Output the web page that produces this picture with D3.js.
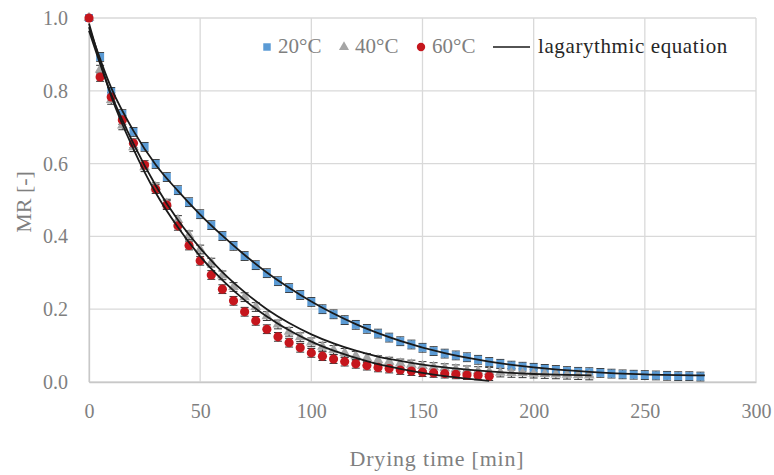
<!DOCTYPE html>
<html>
<head>
<meta charset="utf-8">
<script src="https://cdn.jsdelivr.net/npm/d3@7"></script>
<style>
body { margin: 0; background: #fff; }
svg text { font-family: "Liberation Serif", "DejaVu Serif", serif; }
</style>
</head>
<body>
<div id="chart"></div>
<script>
// measured drying data, MR every 5 min
var t20 = d3.range(0, 276, 5);
var mr20 = [1.0, 0.893, 0.797, 0.736, 0.687, 0.646, 0.599, 0.563, 0.527, 0.494,
  0.461, 0.431, 0.401, 0.374, 0.346, 0.321, 0.299, 0.277, 0.258, 0.239,
  0.220, 0.200, 0.186, 0.170, 0.157, 0.146, 0.133, 0.122, 0.112, 0.103,
  0.094, 0.085, 0.078, 0.073, 0.068, 0.061, 0.055, 0.050, 0.045, 0.042,
  0.039, 0.036, 0.033, 0.030, 0.028, 0.027, 0.025, 0.023, 0.021, 0.020,
  0.019, 0.018, 0.017, 0.016, 0.016, 0.015];

var t40 = d3.range(0, 226, 5);
var mr40 = [1.0, 0.858, 0.775, 0.705, 0.645, 0.59, 0.535, 0.49, 0.445, 0.403,
  0.364, 0.328, 0.293, 0.261, 0.233, 0.206, 0.181, 0.158, 0.138, 0.123,
  0.109, 0.097, 0.088, 0.080, 0.072, 0.066, 0.060, 0.056, 0.051, 0.048,
  0.044, 0.041, 0.038, 0.035, 0.032, 0.030, 0.028, 0.026, 0.025, 0.024,
  0.023, 0.022, 0.021, 0.020, 0.019, 0.018];

var t60 = d3.range(0, 181, 5);
var mr60 = [1.0, 0.838, 0.783, 0.72, 0.656, 0.596, 0.53, 0.486, 0.429, 0.375,
  0.333, 0.294, 0.255, 0.223, 0.193, 0.168, 0.145, 0.124, 0.108, 0.094,
  0.080, 0.071, 0.063, 0.056, 0.050, 0.045, 0.040, 0.037, 0.033, 0.030,
  0.027, 0.025, 0.023, 0.021, 0.019, 0.018, 0.016];

var errMR = 0.012;

// logarithmic model curves
var fitT20 = [0, 10, 20, 30, 40, 50, 60, 70, 80, 90, 100, 120, 140, 160, 180, 200, 225, 250, 277];
var fit20 = [0.975, 0.808, 0.69, 0.597, 0.525, 0.46, 0.402, 0.349, 0.301, 0.259, 0.221, 0.159, 0.113, 0.079, 0.056, 0.040, 0.028, 0.021, 0.018];
var fitT40 = [0, 10, 20, 30, 40, 50, 60, 70, 80, 90, 100, 110, 120, 130, 140, 150, 160, 170, 180, 190, 200, 210, 226];
var fit40 = [0.965, 0.79, 0.655, 0.54, 0.445, 0.368, 0.302, 0.247, 0.2, 0.162, 0.131, 0.106, 0.086, 0.07, 0.058, 0.048, 0.04, 0.034, 0.029, 0.025, 0.022, 0.02, 0.018];
var fitT60 = [0, 10, 20, 30, 40, 50, 60, 70, 80, 90, 100, 110, 120, 130, 140, 150, 160, 170, 180];
var fit60 = [0.985, 0.785, 0.64, 0.52, 0.425, 0.345, 0.28, 0.225, 0.18, 0.142, 0.111, 0.086, 0.066, 0.049, 0.036, 0.025, 0.016, 0.009, 0.003];

var xTicks = [0, 50, 100, 150, 200, 250, 300];
var yTicks = [0, 0.2, 0.4, 0.6, 0.8, 1.0];

var W = 774, H = 475;
var svg = d3.select("#chart").append("svg").attr("width", W).attr("height", H);

var x = d3.scaleLinear().domain([0, 300]).range([89, 756]);
var y = d3.scaleLinear().domain([0, 1]).range([382, 18]);

// grid
svg.append("g").selectAll("line").data(yTicks).join("line")
  .attr("x1", 89).attr("x2", 756).attr("y1", d => y(d)).attr("y2", d => y(d))
  .attr("stroke", "#d9d9d9").attr("stroke-width", 1.3);
svg.append("g").selectAll("line").data(xTicks).join("line")
  .attr("x1", d => x(d)).attr("x2", d => x(d)).attr("y1", 18).attr("y2", 382)
  .attr("stroke", "#d9d9d9").attr("stroke-width", 1.3);

// axes
var xAxis = svg.append("g").attr("transform", "translate(0,382)")
  .call(d3.axisBottom(x).tickValues(xTicks).tickSize(0).tickPadding(22));
var yAxis = svg.append("g").attr("transform", "translate(89,0)")
  .call(d3.axisLeft(y).tickValues(yTicks).tickFormat(d3.format(".1f")).tickSize(0).tickPadding(21));
[xAxis, yAxis].forEach(function (a) {
  a.select(".domain").attr("stroke", "#c8c8c8").attr("stroke-width", 1.3);
  a.selectAll("text").attr("fill", "#7f7f7f").style("font-size", "20px")
    .style("font-family", "'Liberation Serif', serif");
});

svg.append("text").attr("x", 437).attr("y", 466).attr("text-anchor", "middle")
  .attr("fill", "#7f7f7f").style("font-size", "22px").style("letter-spacing", "0.8px")
  .text("Drying time [min]");
svg.append("text").attr("transform", "translate(31,202) rotate(-90)").attr("text-anchor", "middle")
  .attr("fill", "#7f7f7f").style("font-size", "22px").text("MR [-]");

function pts(ts, vs) { return ts.map((t, i) => ({ t: t, v: vs[i] })); }

var line = d3.line().x(d => x(d.t)).y(d => y(d.v)).curve(d3.curveMonotoneX);

var series = [
  { data: pts(t20, mr20), color: "#5b9bd5", sym: d3.symbolSquare, size: 64 },
  { data: pts(t40, mr40), color: "#a5a5a5", sym: d3.symbolTriangle, size: 50 },
  { data: pts(t60, mr60), color: "#c5161d", sym: d3.symbolCircle, size: 66 }
];

// error bars
series.forEach(function (s) {
  var g = svg.append("g").attr("stroke", "#333").attr("stroke-width", 1);
  s.data.forEach(function (d) {
    if (d.t === 0) return;
    var x0 = x(d.t), ya = y(d.v + errMR), yb = y(d.v - errMR);
    g.append("line").attr("x1", x0).attr("x2", x0).attr("y1", ya).attr("y2", yb);
    g.append("line").attr("x1", x0 - 4).attr("x2", x0 + 4).attr("y1", ya).attr("y2", ya);
    g.append("line").attr("x1", x0 - 4).attr("x2", x0 + 4).attr("y1", yb).attr("y2", yb);
  });
});

// markers
series.forEach(function (s) {
  svg.append("g").selectAll("path").data(s.data).join("path")
    .attr("d", d3.symbol().type(s.sym).size(s.size))
    .attr("transform", d => "translate(" + x(d.t) + "," + y(d.v) + ")")
    .attr("fill", s.color);
});

// model lines
[pts(fitT20, fit20), pts(fitT40, fit40), pts(fitT60, fit60)].forEach(function (f) {
  svg.append("path").datum(f).attr("d", line).attr("fill", "none")
    .attr("stroke", "#1a1a1a").attr("stroke-width", 1.8);
});

// legend
var lg = svg.append("g").style("font-size", "21px");
lg.append("path").attr("d", d3.symbol().type(d3.symbolSquare).size(56)).attr("transform", "translate(267,47)").attr("fill", "#5b9bd5");
lg.append("text").attr("x", 278).attr("y", 53).attr("fill", "#7f7f7f").text("20°C");
lg.append("path").attr("d", d3.symbol().type(d3.symbolTriangle).size(44)).attr("transform", "translate(344,47)").attr("fill", "#a5a5a5");
lg.append("text").attr("x", 355).attr("y", 53).attr("fill", "#7f7f7f").text("40°C");
lg.append("path").attr("d", d3.symbol().type(d3.symbolCircle).size(55)).attr("transform", "translate(421,47)").attr("fill", "#c5161d");
lg.append("text").attr("x", 432).attr("y", 53).attr("fill", "#7f7f7f").text("60°C");
lg.append("line").attr("x1", 493).attr("x2", 530).attr("y1", 47).attr("y2", 47).attr("stroke", "#1a1a1a").attr("stroke-width", 1.5);
lg.append("text").attr("x", 538).attr("y", 53).attr("fill", "#262626").style("letter-spacing", "0.6px")
  .text("lagarythmic equation");
</script>
</body>
</html>
